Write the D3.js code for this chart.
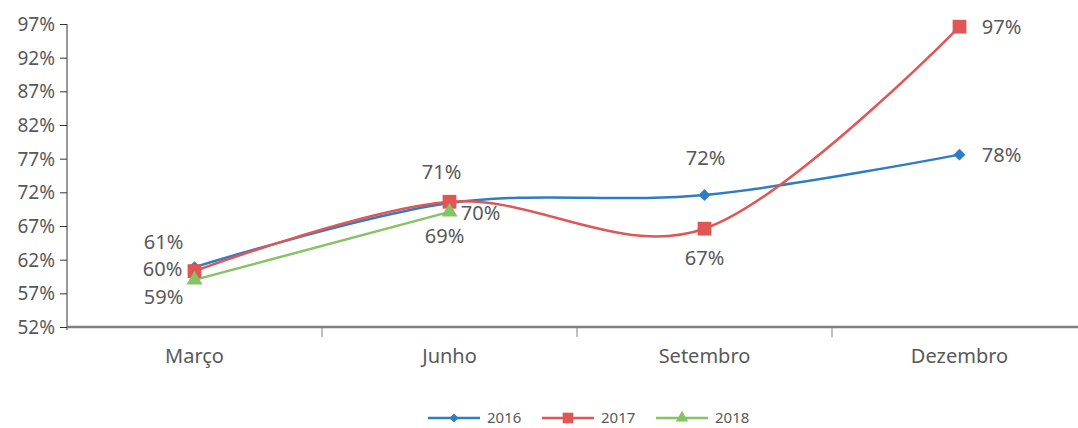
<!DOCTYPE html>
<html>
<head>
<meta charset="utf-8">
<script src="https://cdn.jsdelivr.net/npm/d3@7"></script>
<style>
  body { margin: 0; background: #fff; }
  text { font-family: "Noto Sans", "Open Sans", sans-serif; fill: #595959; }
</style>
</head>
<body>
<svg id="svg" width="1078" height="428"></svg>
<script>
// dados
const meses = ["Março", "Junho", "Setembro", "Dezembro"];
const yTicks = [52, 57, 62, 67, 72, 77, 82, 87, 92, 97];
const anos = ["2016", "2017", "2018"];
const valores2016 = [60.9, 70.4, 71.6, 77.6];
const valores2017 = [60.3, 70.6, 66.6, 96.6];
const valores2018 = [59.0, 69.1];
const rotulos2016 = ["61%", "70%", "72%", "78%"];
const rotulos2017 = ["60%", "71%", "67%", "97%"];
const rotulos2018 = ["59%", "69%"];
// deslocamento de cada rótulo em relação ao ponto [dx, dy], âncora no centro
const desl2016 = [[-31, -25], [31, 10], [1, -37], [42, 0]];
const desl2017 = [[-32, -2], [-8, -30], [0, 29], [42, 0]];
const desl2018 = [[-31, 17], [-5, 24]];

const cores = ["#2e7dc4", "#e05656", "#85c463"];
const simbolos = [d3.symbolDiamond2, d3.symbolSquare, d3.symbolTriangle];

const series = [
  { nome: anos[0], valores: valores2016, rotulos: rotulos2016, desl: desl2016, cor: cores[0], simbolo: simbolos[0], tam: 90 },
  { nome: anos[1], valores: valores2017, rotulos: rotulos2017, desl: desl2017, cor: cores[1], simbolo: simbolos[1], tam: 190 },
  { nome: anos[2], valores: valores2018, rotulos: rotulos2018, desl: desl2018, cor: cores[2], simbolo: simbolos[2], tam: 110 }
];

const svg = d3.select("#svg");
const margin = { top: 24, left: 67, bottom: 101 };
const height = +svg.attr("height");

const x = d3.scaleBand()
  .domain(meses)
  .range([margin.left, margin.left + 4 * 255]);

const y = d3.scaleLinear()
  .domain([52, 97])
  .range([height - margin.bottom, margin.top]);

// eixo y
const yAxis = svg.append("g")
  .attr("transform", `translate(${margin.left},0)`)
  .call(d3.axisLeft(y).tickValues(yTicks).tickSize(7).tickPadding(5).tickFormat(d => d + "%"));
yAxis.select(".domain").attr("stroke", "#333").attr("d", `M0,${y(97)}V${y(52) + 3}`);
yAxis.selectAll(".tick line").attr("stroke", "#333");
yAxis.selectAll("text").style("font-size", "19px").attr("fill", "#595959").attr("dy", "0.35em");

// eixo x
const xAxis = svg.append("g")
  .attr("transform", `translate(0,${y(52)})`);
xAxis.append("line")
  .attr("x1", margin.left).attr("x2", 1078)
  .attr("stroke", "#808080").attr("stroke-width", 2.5);
xAxis.selectAll(".sep")
  .data(meses.slice(1))
  .enter().append("line")
  .attr("x1", d => x(d)).attr("x2", d => x(d))
  .attr("y1", 0).attr("y2", 10)
  .attr("stroke", "#808080");
xAxis.selectAll(".cat")
  .data(meses)
  .enter().append("text")
  .attr("x", d => x(d) + x.bandwidth() / 2)
  .attr("y", 36)
  .attr("text-anchor", "middle")
  .style("font-size", "20px")
  .text(d => d);

const cx = i => x(meses[i]) + x.bandwidth() / 2;

const line = d3.line()
  .x((d, i) => cx(i))
  .y(d => y(d))
  .curve(d3.curveCatmullRom.alpha(0));

series.forEach(s => {
  svg.append("path")
    .datum(s.valores)
    .attr("fill", "none")
    .attr("stroke", s.cor)
    .attr("stroke-width", 2.5)
    .attr("d", line);
});

series.forEach(s => {
  svg.selectAll(null)
    .data(s.valores)
    .enter().append("path")
    .attr("transform", (d, i) => `translate(${cx(i)},${y(d)})`)
    .attr("fill", s.cor)
    .attr("d", d3.symbol().type(s.simbolo).size(s.tam));

  svg.selectAll(null)
    .data(s.valores)
    .enter().append("text")
    .attr("x", (d, i) => cx(i) + s.desl[i][0])
    .attr("y", (d, i) => y(d) + s.desl[i][1])
    .attr("dy", "0.35em")
    .attr("text-anchor", "middle")
    .style("font-size", "20px")
    .text((d, i) => s.rotulos[i]);
});

// legenda
const legenda = svg.append("g").attr("transform", "translate(428,418)");
series.forEach((s, i) => {
  const g = legenda.append("g").attr("transform", `translate(${i * 114},0)`);
  g.append("line").attr("x1", 0).attr("x2", 52).attr("stroke", s.cor).attr("stroke-width", 2.5);
  g.append("path").attr("transform", "translate(26,0)").attr("fill", s.cor)
    .attr("d", d3.symbol().type(s.simbolo).size(s.tam * 0.6));
  g.append("text").attr("x", 59).attr("dy", "0.35em").style("font-size", "15px").text(s.nome);
});
</script>
</body>
</html>
